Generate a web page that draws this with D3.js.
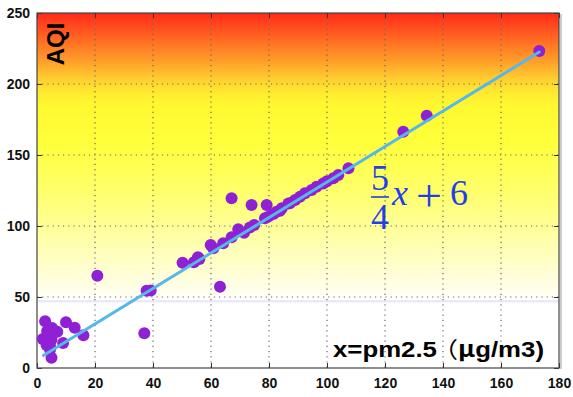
<!DOCTYPE html>
<html>
<head>
<meta charset="utf-8">
<script src="https://cdn.jsdelivr.net/npm/d3@7/dist/d3.min.js"></script>
<style>
  body { margin: 0; background: #fff; }
  svg { display: block; }
</style>
</head>
<body>
<svg width="573" height="397"></svg>
<script>
// pm2.5 readings (x) and AQI (y)
var pm25 = [2.8, 10, 13, 5.2, 7, 16, 9, 2, 3.3, 4.5, 5, 3.9, 5, 4.5, 3.5,
            20.8, 37, 37.8, 39.2, 50.2, 54.1, 55.5, 56, 59.9, 60.8, 63.1, 64.2,
            67.1, 69.4, 71.4, 73.4, 74.9, 67.1, 74, 79.2, 78.6, 79.8, 81.5, 82.6,
            83.8, 84.4, 86.7, 87.2, 89, 90.7, 92.4, 94.7, 96.4, 98.7, 100, 102.2,
            103.9, 107.4, 126.3, 134.4, 173.2];
var aqi = [33, 32.3, 28.3, 28.2, 25.6, 23, 17.6, 20.5, 16.2, 13, 7.3, 23, 20, 15.5, 26,
           65, 24.4, 54.4, 54.6, 74.2, 74.5, 78, 76.8, 86.6, 84.3, 57.3, 87.8,
           92, 97.7, 95.3, 99, 100.7, 119.5, 114.8, 114.8, 105.4, 106.6, 108.5, 110.1,
           110.8, 112.5, 115.8, 116, 118.3, 120.6, 123, 125.4, 127.7, 130, 131.5, 133.6,
           135.9, 140.6, 166.4, 177.7, 223.2];

var xTicks = [0, 20, 40, 60, 80, 100, 120, 140, 160, 180];
var yTicks = [0, 50, 100, 150, 200, 250];

// fitted line 5/4 x + 6
var fitSlope = 5 / 4, fitIntercept = 6;
var fitFrom = 2.2, fitTo = 173.2;

// background colour by AQI level
var bgLevels = [250, 240, 228, 215, 205, 195, 185, 160, 120, 90, 65, 51, 49, 0];
var bgColors = ["#ff2a18", "#ff4c1e", "#ff7624", "#ffa22a", "#ffc92e", "#ffe830", "#fff830",
                "#ffff3a", "#ffff72", "#ffffaa", "#fffed8", "#fffff2", "#ffffff", "#ffffff"];

var svg = d3.select("svg"),
    pLeft = 37, pTop = 13, pRight = 559, pBottom = 368;

var x = d3.scaleLinear().domain([0, 180]).range([pLeft, pRight]);
var y = d3.scaleLinear().domain([0, 250]).range([pBottom, pTop]);

var grad = svg.append("defs").append("linearGradient")
    .attr("id", "bg")
    .attr("gradientUnits", "userSpaceOnUse")
    .attr("x1", 0).attr("x2", 0)
    .attr("y1", y(250)).attr("y2", y(0));
grad.selectAll("stop")
    .data(bgLevels)
    .enter().append("stop")
    .attr("offset", function(d) { return (250 - d) / 250; })
    .attr("stop-color", function(d, i) { return bgColors[i]; });

svg.append("rect")
    .attr("x", pLeft).attr("y", pTop)
    .attr("width", pRight - pLeft).attr("height", pBottom - pTop)
    .attr("fill", "url(#bg)");

// faint band just under 50
svg.append("line")
    .attr("x1", pLeft).attr("x2", pRight)
    .attr("y1", y(47)).attr("y2", y(47))
    .attr("stroke", "#e6e6f8").attr("stroke-width", 2);

// dotted grid
var g = svg.append("g").attr("class", "grid");
g.selectAll(".gx")
    .data(xTicks.slice(1, -1))
    .enter().append("line")
    .attr("x1", function(d) { return x(d); }).attr("x2", function(d) { return x(d); })
    .attr("y1", pTop).attr("y2", pBottom);
g.selectAll(".gy")
    .data(yTicks.slice(1, -1))
    .enter().append("line")
    .attr("y1", function(d) { return y(d); }).attr("y2", function(d) { return y(d); })
    .attr("x1", pLeft).attr("x2", pRight);
g.selectAll("line")
    .attr("stroke", "#666")
    .attr("stroke-width", 1.2)
    .attr("stroke-dasharray", "1.2,4");

// axes with inward ticks
var tickFont = function(sel) {
    sel.selectAll("text")
        .attr("font-family", "Liberation Sans, Arial, sans-serif")
        .attr("font-weight", "bold")
        .attr("font-size", "14px")
        .attr("fill", "#111");
    sel.selectAll("line").attr("stroke", "#333");
    sel.select(".domain").remove();
};

svg.append("g")
    .attr("transform", "translate(0," + pBottom + ")")
    .call(d3.axisBottom(x).tickValues(xTicks).tickSizeInner(-5).tickSizeOuter(0).tickPadding(10))
    .call(tickFont);
svg.append("g")
    .attr("transform", "translate(" + pLeft + ",0)")
    .call(d3.axisLeft(y).tickValues(yTicks).tickSizeInner(-5).tickSizeOuter(0).tickPadding(7))
    .call(tickFont);
svg.append("g")
    .attr("transform", "translate(0," + pTop + ")")
    .call(d3.axisTop(x).tickValues(xTicks).tickSizeInner(-5).tickSizeOuter(0).tickFormat(""))
    .call(tickFont);
svg.append("g")
    .attr("transform", "translate(" + pRight + ",0)")
    .call(d3.axisRight(y).tickValues(yTicks).tickSizeInner(-5).tickSizeOuter(0).tickFormat(""))
    .call(tickFont);

// frame
svg.append("rect")
    .attr("x", pRight + 1).attr("y", pTop + 1)
    .attr("width", 2).attr("height", pBottom - pTop)
    .attr("fill", "#ccc");
svg.append("rect")
    .attr("x", pLeft).attr("y", pTop)
    .attr("width", pRight - pLeft).attr("height", pBottom - pTop)
    .attr("fill", "none")
    .attr("stroke", "#444")
    .attr("stroke-width", 1.2);

// points
var pts = pm25.map(function(v, i) { return {x: v, y: aqi[i]}; });
svg.append("g").selectAll("circle")
    .data(pts)
    .enter().append("circle")
    .attr("cx", function(d) { return x(d.x); })
    .attr("cy", function(d) { return y(d.y); })
    .attr("r", 6)
    .attr("fill", "#9020d4");

// fit line
svg.append("line")
    .attr("x1", x(fitFrom)).attr("y1", y(fitSlope * fitFrom + fitIntercept))
    .attr("x2", x(fitTo)).attr("y2", y(fitSlope * fitTo + fitIntercept))
    .attr("stroke", "#55b8ea")
    .attr("stroke-width", 3)
    .attr("stroke-linecap", "round");

// labels
svg.append("text")
    .attr("transform", "translate(64,44) rotate(-90)")
    .attr("text-anchor", "middle")
    .attr("font-family", "Liberation Sans, Arial, sans-serif")
    .attr("font-weight", "bold")
    .attr("font-size", "24px")
    .attr("fill", "#000")
    .text("AQI");

var xl = svg.append("text")
    .attr("x", 333).attr("y", 357)
    .attr("font-family", "Liberation Sans, Noto Sans CJK JP, sans-serif")
    .attr("font-weight", "bold")
    .attr("font-size", "22px")
    .attr("textLength", 211)
    .attr("lengthAdjust", "spacingAndGlyphs")
    .attr("fill", "#000");
xl.append("tspan").text("x=pm2.5");
xl.append("tspan").attr("font-family", "Noto Sans CJK JP").attr("font-weight", "normal")
    .attr("dx", -4).text("（");
xl.append("tspan").attr("font-family", "Noto Sans CJK JP").text("μ");
xl.append("tspan").text("g/m3)");

// formula
var f = svg.append("g")
    .attr("font-family", "Liberation Serif, DejaVu Serif, serif")
    .attr("fill", "#1f3fe8")
    .attr("font-size", "36px");
f.append("text").attr("x", 380).attr("y", 190).attr("text-anchor", "middle").text("5");
f.append("line")
    .attr("x1", 371).attr("x2", 389).attr("y1", 197).attr("y2", 197)
    .attr("stroke", "#1f3fe8").attr("stroke-width", 1.6);
f.append("text").attr("x", 380).attr("y", 229).attr("text-anchor", "middle").text("4");
f.append("text").attr("x", 392).attr("y", 205).attr("font-style", "italic").text("x");
f.append("text").attr("x", 416).attr("y", 211).attr("font-size", "46px").text("+");
f.append("text").attr("x", 450).attr("y", 205).text("6");
</script>
</body>
</html>
